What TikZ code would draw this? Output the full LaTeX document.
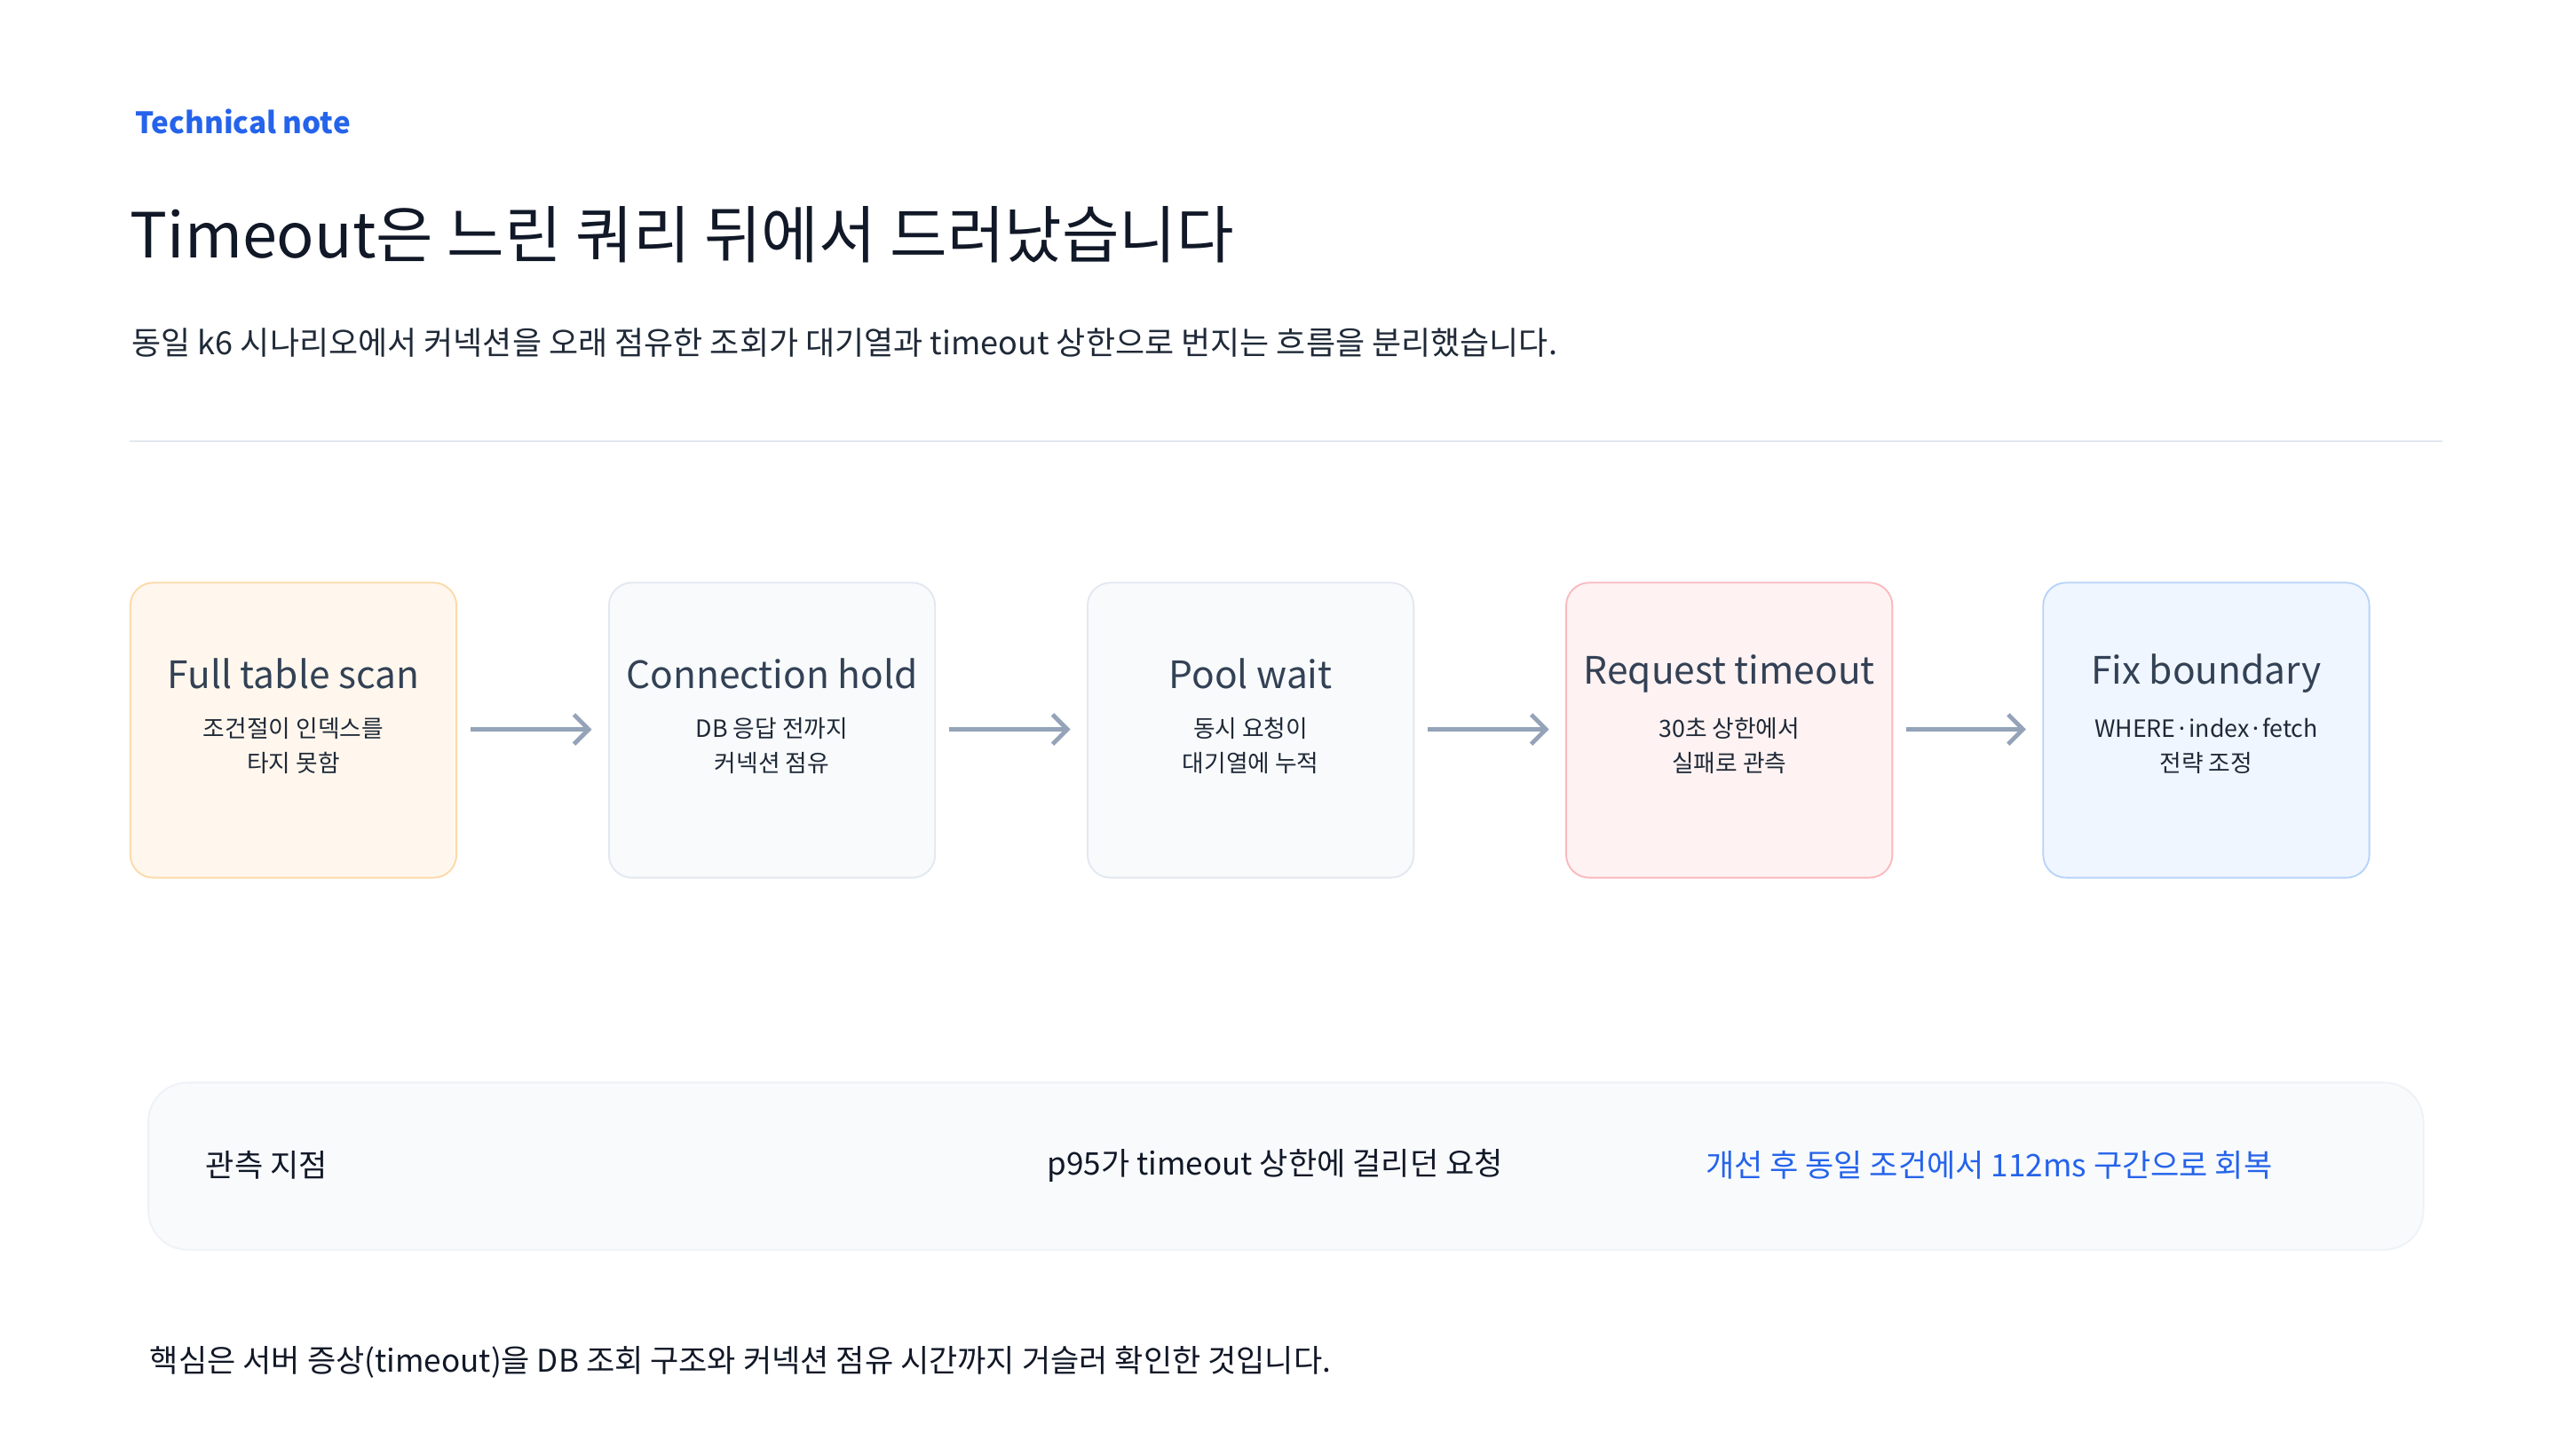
\documentclass[tikz,border=0pt]{standalone}
\usepackage{fontspec}
\setmainfont{Noto Sans CJK KR}
\usetikzlibrary{arrows.meta}
\definecolor{accent}{HTML}{2563EB}
\definecolor{ink}{HTML}{111827}
\definecolor{body}{HTML}{1F2937}
\definecolor{boxtitle}{HTML}{334155}
\definecolor{rule}{HTML}{E2E8F0}
\definecolor{arrowc}{HTML}{94A3B8}
\definecolor{f1}{HTML}{FFF7ED}\definecolor{d1}{HTML}{FCD9A8}
\definecolor{f2}{HTML}{F8FAFC}\definecolor{d2}{HTML}{E2E8F0}
\definecolor{f4}{HTML}{FEF2F2}\definecolor{d4}{HTML}{F9B9BE}
\definecolor{f5}{HTML}{EFF6FF}\definecolor{d5}{HTML}{B7D3FA}
\definecolor{pd}{HTML}{EEF2F6}
\tikzset{
  stagebox/.style={draw, line width=1pt, rounded corners=14pt, minimum width=199pt, minimum height=180pt, anchor=north west},
  flowarrow/.style={draw=arrowc, line width=2.6pt, -{Straight Barb[length=9pt,width=18pt,line width=2.6pt]}},
  btitle/.style={text=boxtitle, font=\fontsize{23}{28}\selectfont},
  bsub/.style={text=body, font=\fontsize{14.5}{21}\selectfont, align=center},
}
\begin{document}
\begin{tikzpicture}[x=1pt,y=-1pt]
\useasboundingbox[fill=white] (0,0) rectangle (1560,888);
\node[anchor=west, text=accent, font=\fontsize{18}{22}\selectfont\bfseries] (tn) at (79,74) {Technical note};
\node[anchor=west, text=ink, font=\fontsize{38}{44}\selectfont] (title) at (76,143) {Timeout은 느린 쿼리 뒤에서 드러났습니다};
\node[anchor=west, text=body, font=\fontsize{19.5}{24}\selectfont] (sub) at (77,209) {동일 k6 시나리오에서 커넥션을 오래 점유한 조회가 대기열과 timeout 상한으로 번지는 흐름을 분리했습니다.};
\coordinate (r1) at (79,269); \coordinate (r2) at (1490,269);
\draw[rule, line width=1.2pt] (r1) -- (r2);

\node[stagebox, fill=f1, draw=d1] (b1) at (79,355) {};
\node[stagebox, fill=f2, draw=d2] (b2) at (371,355) {};
\node[stagebox, fill=f2, draw=d2] (b3) at (663,355) {};
\node[stagebox, fill=f4, draw=d4] (b4) at (955,355) {};
\node[stagebox, fill=f5, draw=d5] (b5) at (1246,355) {};

\foreach \b/\t/\s in {b1/Full table scan/조건절이 인덱스를\\타지 못함,
                      b2/Connection hold/DB 응답 전까지\\커넥션 점유,
                      b3/Pool wait/동시 요청이\\대기열에 누적,
                      b4/Request timeout/30초 상한에서\\실패로 관측,
                      b5/Fix boundary/WHERE·index·fetch\\전략 조정}{
  \node[btitle] (\b t) at ([yshift=-56pt]\b.north) {\t};
  \node[bsub] (\b s) at ([yshift=-100pt]\b.north) {\s};
}
\foreach \a/\c in {b1/b2,b2/b3,b3/b4,b4/b5}{
  \draw[flowarrow] ([xshift=8pt,yshift=-90pt]\a.north east) -- ([xshift=-10pt,yshift=-90pt]\c.north west);
}

\node[draw=pd, fill=f2, line width=1pt, rounded corners=24pt, minimum width=1388pt, minimum height=102pt, anchor=north west] (panel) at (90,660) {};
\node[anchor=west, text=ink, font=\fontsize{19}{23}\selectfont] (p1) at (122,711) {관측 지점};
\node[text=ink, font=\fontsize{19}{23}\selectfont] (p2) at (778,711) {p95가 timeout 상한에 걸리던 요청};
\node[anchor=west, text=accent, font=\fontsize{19}{23}\selectfont] (p3) at (1037,711) {개선 후 동일 조건에서 112ms 구간으로 회복};

\node[anchor=west, text=ink, font=\fontsize{19}{23}\selectfont] (foot) at (88,831) {핵심은 서버 증상(timeout)을 DB 조회 구조와 커넥션 점유 시간까지 거슬러 확인한 것입니다.};
\end{tikzpicture}
\end{document}
